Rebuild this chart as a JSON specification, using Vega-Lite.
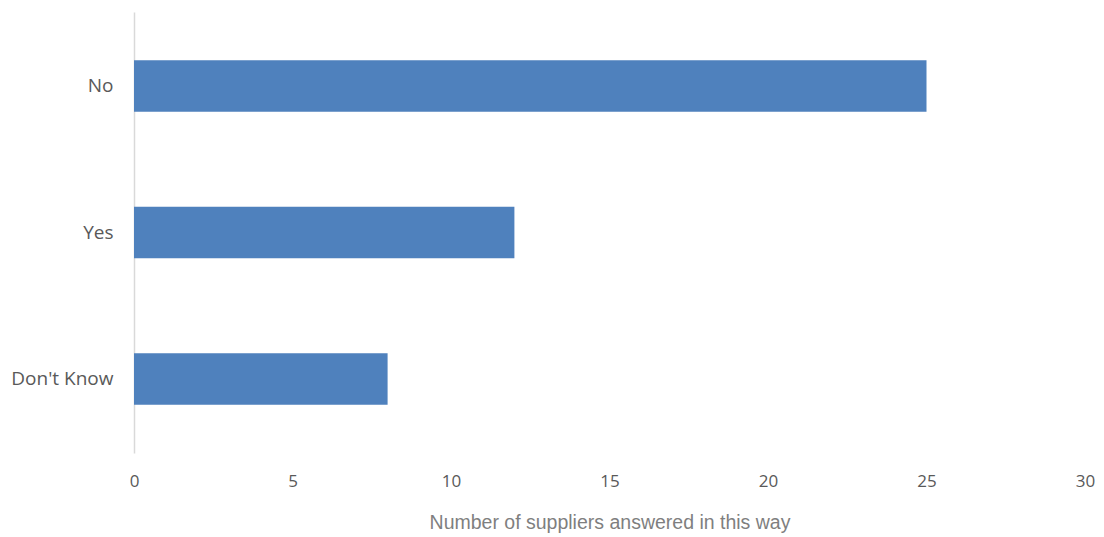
{
  "$schema": "https://vega.github.io/schema/vega-lite/v6.json",
  "autosize": "none",
  "width": 951,
  "height": 441,
  "padding": {"left": 134, "top": 12, "right": 19, "bottom": 84},
  "background": "white",
  "data": {
    "values": [
      {"answer": "No", "count": 25},
      {"answer": "Yes", "count": 12},
      {"answer": "Don't Know", "count": 8}
    ]
  },
  "mark": {"type": "bar", "color": "#4F81BD"},
  "encoding": {
    "y": {
      "field": "answer",
      "type": "nominal",
      "sort": ["No", "Yes", "Don't Know"],
      "scale": {"paddingInner": 0.65, "paddingOuter": 0.33},
      "axis": {
        "title": null,
        "ticks": false,
        "domain": true,
        "domainColor": "#D9D9D9",
        "domainWidth": 1.5,
        "labelPadding": 21,
        "labelFont": "Open Sans",
        "labelFontSize": 19,
        "labelColor": "#595959",
        "grid": false
      }
    },
    "x": {
      "field": "count",
      "type": "quantitative",
      "scale": {"domain": [0, 30]},
      "axis": {
        "values": [0, 5, 10, 15, 20, 25, 30],
        "title": "Number of suppliers answered in this way",
        "titleFont": "Liberation Sans",
        "titleFontSize": 19.5,
        "titleFontWeight": "normal",
        "titleColor": "#7F7F7F",
        "titlePadding": 24,
        "ticks": false,
        "domain": false,
        "grid": false,
        "labelFlush": false,
        "labelPadding": 20,
        "labelFont": "Open Sans",
        "labelFontSize": 17,
        "labelColor": "#595959"
      }
    }
  },
  "config": {"view": {"stroke": null}}
}
